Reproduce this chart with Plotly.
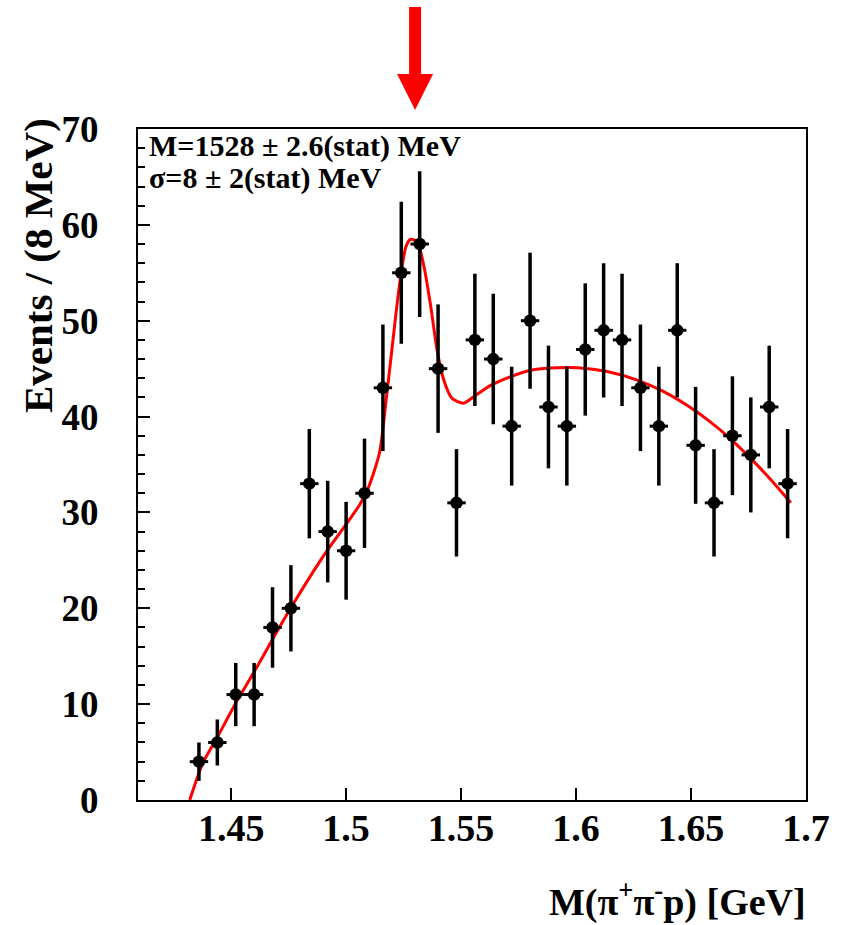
import plotly.graph_objects as go

# ---- data ----
mass = [1.436, 1.444, 1.452, 1.460, 1.468, 1.476, 1.484, 1.492, 1.500, 1.508, 1.516,
        1.524, 1.532, 1.540, 1.548, 1.556, 1.564, 1.572, 1.580, 1.588, 1.596, 1.604,
        1.612, 1.620, 1.628, 1.636, 1.644, 1.652, 1.660, 1.668, 1.676, 1.684, 1.692]
events = [4, 6, 11, 11, 18, 20, 33, 28, 26, 32, 43,
          55, 58, 45, 31, 48, 46, 39, 50, 41, 39, 47,
          49, 48, 43, 39, 49, 37, 31, 38, 36, 41, 33]
event_err = [2.0, 2.4, 3.3, 3.3, 4.2, 4.5, 5.7, 5.3, 5.1, 5.7, 6.6,
             7.4, 7.6, 6.7, 5.6, 6.9, 6.8, 6.2, 7.1, 6.4, 6.2, 6.9,
             7.0, 6.9, 6.6, 6.2, 7.0, 6.1, 5.6, 6.2, 6.0, 6.4, 5.7]
bin_half_width = 0.004

fit_x = [1.432, 1.4376, 1.4441, 1.4527, 1.4613, 1.470, 1.4771, 1.4886, 1.4929, 1.5007,
         1.5059, 1.5094, 1.5145, 1.5174, 1.5202, 1.5231, 1.526, 1.5281, 1.531, 1.5339,
         1.5368, 1.5396, 1.5425, 1.5461, 1.5511, 1.5562, 1.5633, 1.5719, 1.582, 1.5921,
         1.6007, 1.6136, 1.6266, 1.6381, 1.6481, 1.6581, 1.668, 1.6769, 1.6855, 1.6934]
fit_y = [0, 3.8, 6.6, 10.4, 13.9, 17.6, 20.5, 24.9, 26.4, 29.0,
         30.8, 32.4, 36.2, 41.7, 47.6, 53.5, 57.7, 58.5, 58.2, 55.6,
         51.5, 46.9, 43.8, 41.9, 41.4, 42.2, 43.3, 44.2, 44.9, 45.1,
         45.1, 44.7, 43.8, 42.6, 41.2, 39.5, 37.5, 35.4, 33.2, 31.0]

x_tickvals = [1.45, 1.5, 1.55, 1.6, 1.65, 1.7]
x_ticktext = ["1.45", "1.5", "1.55", "1.6", "1.65", "1.7"]
y_tickvals = [0, 10, 20, 30, 40, 50, 60, 70]
y_ticktext = ["0", "10", "20", "30", "40", "50", "60", "70"]
arrow_mass = 1.53

FONT = "Liberation Serif"

fig = go.Figure()

fig.add_trace(go.Scatter(
    x=fit_x, y=fit_y, mode="lines",
    line=dict(color="#ff0000", width=3, shape="spline", smoothing=0.7),
    hoverinfo="skip", showlegend=False,
))

fig.add_trace(go.Scatter(
    x=mass, y=events, mode="markers",
    marker=dict(symbol="circle", size=12.5, color="black"),
    error_y=dict(type="data", array=event_err, visible=True, color="black",
                 thickness=3.5, width=0),
    error_x=dict(type="constant", value=bin_half_width, visible=True, color="black",
                 thickness=3, width=0),
    showlegend=False,
))

# red arrow above the plot marking the peak
fig.add_shape(
    type="path", xref="x", yref="paper",
    xsizemode="pixel", ysizemode="pixel",
    xanchor=arrow_mass, yanchor=1,
    path="M -6,122 L 6,122 L 6,55 L 18,55 L 0,19 L -18,55 L -6,55 Z",
    fillcolor="#ff0000", line=dict(color="#ff0000", width=0),
)

fig.update_layout(
    width=842, height=925,
    margin=dict(l=138, r=30, t=129, b=125),
    paper_bgcolor="white", plot_bgcolor="white",
    font=dict(family=FONT, color="black"),
    xaxis=dict(
        range=[1.4095, 1.70], tickvals=x_tickvals, ticktext=x_ticktext,
        ticks="inside", ticklen=12, tickwidth=1.5, tickcolor="black",
        showline=True, linewidth=2, linecolor="black", mirror=True,
        showgrid=False, zeroline=False,
        ticklabelstandoff=-7,
        tickfont=dict(family=FONT, size=38, weight="bold", color="black"),
    ),
    yaxis=dict(
        range=[0, 70], tickvals=y_tickvals, ticktext=y_ticktext,
        ticks="inside", ticklen=12, tickwidth=1.5, tickcolor="black",
        minor=dict(dtick=2, ticks="inside", ticklen=7, tickwidth=1.5, tickcolor="black"),
        showline=True, linewidth=2, linecolor="black", mirror=True,
        showgrid=False, zeroline=False,
        ticklabelstandoff=30,
        tickfont=dict(family=FONT, size=37, weight="bold", color="black"),
    ),
    annotations=[
        dict(text="Events / (8 MeV)", textangle=-90, xref="paper", yref="paper",
             x=-0.1499, y=0.797, xanchor="center", yanchor="middle", showarrow=False,
             font=dict(family=FONT, size=41, weight="bold", color="black")),
        dict(text="M(π<sup>+</sup>π<sup>-</sup>p) [GeV]", xref="paper", yref="paper",
             x=1.003, y=-0.149, xanchor="right", yanchor="middle", showarrow=False,
             font=dict(family=FONT, size=38, weight="bold", color="black")),
        dict(text="M=1528 ± 2.6(stat) MeV", xref="paper", yref="paper",
             x=0.0134, y=0.9747, xanchor="left", yanchor="middle", showarrow=False,
             font=dict(family=FONT, size=30, weight="bold", color="black")),
        dict(text="σ=8 ± 2(stat) MeV", xref="paper", yref="paper",
             x=0.0134, y=0.927, xanchor="left", yanchor="middle", showarrow=False,
             font=dict(family=FONT, size=30, weight="bold", color="black")),
    ],
)

fig.write_html("out.html")
